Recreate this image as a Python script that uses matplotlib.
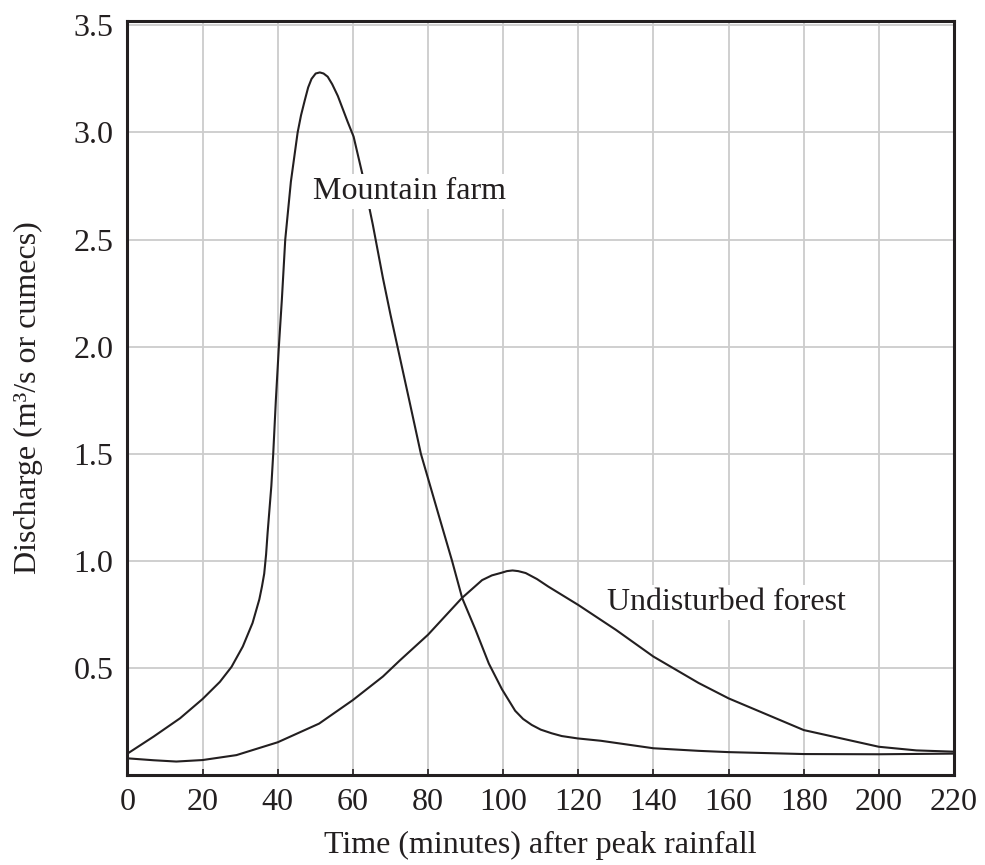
import matplotlib
matplotlib.use("Agg")
import matplotlib.pyplot as plt

farm_time = [0, 7, 14, 20, 24.6, 27.7, 30.7, 33.3, 35.1, 35.8, 36.4, 36.9, 37.3,
             38.3, 38.8, 39.5, 40.3, 41.1, 42.0, 43.5, 45.3, 46.2, 47.2, 48.1,
             49.0, 50.1, 51.2, 52.2, 53.3, 54.5, 56.0, 58.6, 60.2, 62.6, 65.3,
             68.0, 70.0, 72.0, 75.0, 78.1, 82.9, 86.4, 89.1, 92.6, 96.2, 99.7,
             103.2, 105.3, 107.6, 110.0, 112.9, 115.6, 119.8, 126, 140, 152,
             160, 180, 200, 220]
farm_flow = [0.10, 0.18, 0.265, 0.355, 0.435, 0.505, 0.60, 0.71, 0.82, 0.88,
             0.94, 1.03, 1.13, 1.35, 1.50, 1.75, 2.00, 2.22, 2.50, 2.77, 3.00,
             3.08, 3.15, 3.21, 3.25, 3.275, 3.28, 3.275, 3.26, 3.225, 3.17,
             3.05, 2.98, 2.80, 2.57, 2.32, 2.15, 1.99, 1.75, 1.50, 1.21, 1.00,
             0.826, 0.68, 0.52, 0.40, 0.30, 0.262, 0.234, 0.212, 0.195, 0.182,
             0.171, 0.160, 0.125, 0.113, 0.107, 0.098, 0.097, 0.10]

forest_time = [0, 7, 13, 20, 29, 40, 51, 60, 68, 72.5, 80, 89, 94.4, 97, 99.7,
               101, 102.5, 104, 106, 109, 112, 120, 130, 140, 152, 160, 180,
               200, 210, 220]
forest_flow = [0.078, 0.069, 0.063, 0.070, 0.093, 0.153, 0.24, 0.35, 0.46,
               0.535, 0.655, 0.826, 0.91, 0.932, 0.945, 0.952, 0.955, 0.952,
               0.943, 0.915, 0.88, 0.794, 0.678, 0.553, 0.43, 0.358, 0.21,
               0.132, 0.115, 0.109]

x_ticks = list(range(0, 221, 20))
y_ticks = [0.5, 1.0, 1.5, 2.0, 2.5, 3.0, 3.5]

plt.rcParams['font.family'] = ['Liberation Serif', 'DejaVu Serif']
ink = '#231f20'

fig = plt.figure(figsize=(9.85, 8.65), dpi=100)
ax = fig.add_axes([0.1294, 0.104, 0.8391, 0.8717])

ax.plot(farm_time, farm_flow, color=ink, lw=1.5, zorder=3, solid_joinstyle='round')
ax.plot(forest_time, forest_flow, color=ink, lw=1.5, zorder=3, solid_joinstyle='round')

ax.set_xlim(0, 220)
ax.set_ylim(0, 3.52)
ax.set_xticks(x_ticks)
ax.set_yticks(y_ticks)
ax.set_yticklabels([f"{v:.1f}" for v in y_ticks])
ax.grid(True, color='#cccccc', lw=1.3)
ax.set_axisbelow(True)

ax.tick_params(axis='x', direction='in', length=4, width=1.2, color=ink,
               labelsize=23, pad=9, labelcolor=ink)
ax.tick_params(axis='y', length=0, labelsize=23, pad=10, labelcolor=ink)
for s in ax.spines.values():
    s.set_linewidth(2.2)
    s.set_color(ink)

ax.set_xlabel("Time (minutes) after peak rainfall", fontsize=23, color=ink, labelpad=10)
ax.set_ylabel("Discharge (m³/s or cumecs)", fontsize=23, color=ink, labelpad=22)

box = dict(facecolor='white', edgecolor='none', pad=2)
ax.text(49.4, 2.69, "Mountain farm", fontsize=23, color=ink, ha='left',
        va='baseline', bbox=box, zorder=5)
ax.text(127.6, 0.77, "Undisturbed forest", fontsize=23, color=ink, ha='left',
        va='baseline', bbox=box, zorder=5)

plt.savefig("out.png", dpi=100)
